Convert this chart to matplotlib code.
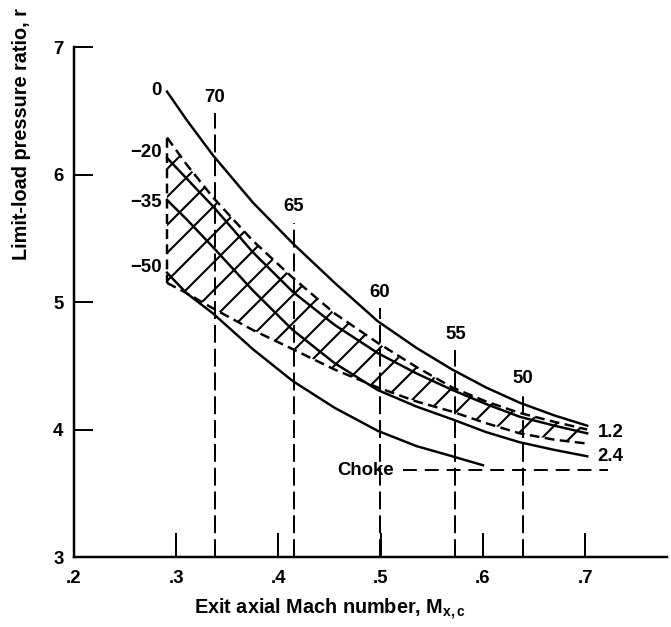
import matplotlib
matplotlib.use('Agg')
import matplotlib.pyplot as plt

plt.rcParams['font.family'] = ['Liberation Sans', 'DejaVu Sans']
plt.rcParams['font.weight'] = 'bold'
plt.rcParams['hatch.linewidth'] = 1.8
plt.rcParams['mathtext.fontset'] = 'custom'
plt.rcParams['mathtext.rm'] = 'Liberation Sans:bold'
plt.rcParams['mathtext.it'] = 'Liberation Sans:bold'
plt.rcParams['mathtext.bf'] = 'Liberation Sans:bold'

# ---------------- data ----------------
mach = [0.291, 0.310, 0.336, 0.375, 0.414, 0.455, 0.497, 0.535, 0.570, 0.603, 0.636, 0.670, 0.702]
r_top_solid = [6.65, 6.43, 6.15, 5.78, 5.46, 5.15, 4.85, 4.64, 4.47, 4.33, 4.21, 4.11, 4.03]   # "0"
r_upper_dash = [6.29, 6.08, 5.82, 5.48, 5.19, 4.91, 4.68, 4.49, 4.33, 4.22, 4.13, 4.06, 4.00]  # "-20"
r_mid_solid1 = [6.13, 5.97, 5.75, 5.39, 5.08, 4.82, 4.60, 4.44, 4.31, 4.20, 4.10, 4.03, 3.97]
r_mid_solid2 = [5.80, 5.65, 5.43, 5.09, 4.78, 4.52, 4.31, 4.18, 4.08, 3.98, 3.90, 3.84, 3.79]  # "-35"
r_lower_dash = [5.15, 5.07, 4.95, 4.78, 4.63, 4.47, 4.33, 4.22, 4.14, 4.05, 3.97, 3.92, 3.89]  # "-50"

mach_low = [0.291, 0.310, 0.336, 0.375, 0.414, 0.455, 0.497, 0.535, 0.570, 0.600]
r_low_solid = [5.23, 5.07, 4.91, 4.63, 4.38, 4.17, 3.99, 3.87, 3.79, 3.72]

angle_mach = [0.338, 0.415, 0.499, 0.573, 0.639]
angle_top = [6.48, 5.62, 4.95, 4.62, 4.27]
angle_labels = ['70', '65', '60', '55', '50']

left_labels = ['0', '\u221220', '\u221235', '\u221250']
left_label_r = [6.66, 6.17, 5.78, 5.27]

right_labels = ['1.2', '2.4']
right_label_r = [3.98, 3.79]

choke_r = 3.68
choke_mach = [0.522, 0.722]

xticks = [0.2, 0.3, 0.4, 0.5, 0.6, 0.7]
xticklabels = ['.2', '.3', '.4', '.5', '.6', '.7']
yticks = [3, 4, 5, 6, 7]
yticklabels = ['3', '4', '5', '6', '7']

# ---------------- figure ----------------
DPI = 84
fig = plt.figure(figsize=(671 / DPI, 627 / DPI), dpi=DPI)
ax = fig.add_axes([0.1103, 0.1116, 0.8837, 0.8134])
ax.set_xlim(0.2, 0.78)
ax.set_ylim(3, 7)

lw = 2.1
dash_curve = (0, (4.0, 2.2))
dash_vert = (0, (9.0, 3.0))
fs = 16

# hatched band
ax.fill_between(mach, r_lower_dash, r_upper_dash, facecolor='none',
                edgecolor='black', hatch='/', linewidth=0)
ax.plot([mach[0], mach[0]], [r_upper_dash[0], r_lower_dash[0]], color='black',
        lw=lw, linestyle=dash_curve)

ax.plot(mach, r_top_solid, color='black', lw=lw)
ax.plot(mach, r_upper_dash, color='black', lw=lw, linestyle=dash_curve)
ax.plot(mach, r_mid_solid1, color='black', lw=lw)
ax.plot(mach, r_mid_solid2, color='black', lw=lw)
ax.plot(mach, r_lower_dash, color='black', lw=lw, linestyle=dash_curve)
ax.plot(mach_low, r_low_solid, color='black', lw=lw)

# constant-angle vertical lines
for m, top, lab in zip(angle_mach, angle_top, angle_labels):
    ax.vlines(m, 3, top, colors='black', lw=1.7, linestyles=[dash_vert])
    ax.text(m, top + 0.06, lab, ha='center', va='bottom', fontsize=fs, fontweight='bold')

# choke line
ax.hlines(choke_r, choke_mach[0], choke_mach[1], colors='black', lw=1.7,
          linestyles=[(0, (7.0, 4.0))])
ax.text(choke_mach[0] - 0.009, choke_r, 'Choke', ha='right', va='center',
        fontsize=fs, fontweight='bold')

for lab, rv in zip(left_labels, left_label_r):
    ax.text(0.286, rv, lab, ha='right', va='center', fontsize=fs, fontweight='bold')
for lab, rv in zip(right_labels, right_label_r):
    ax.text(0.712, rv, lab, ha='left', va='center', fontsize=fs, fontweight='bold')

# axes styling
for s in ['top', 'right']:
    ax.spines[s].set_visible(False)
for s in ['left', 'bottom']:
    ax.spines[s].set_linewidth(2.1)

ax.set_xticks(xticks)
ax.set_xticklabels(xticklabels, fontsize=fs, fontweight='bold')
ax.set_yticks(yticks)
ax.set_yticklabels(yticklabels, fontsize=fs, fontweight='bold')
ax.tick_params(axis='x', direction='in', length=21, width=1.7, pad=11)
ax.tick_params(axis='y', direction='in', length=16, width=1.7, pad=9)

ax.set_xlabel('Exit axial Mach number, M$_{x,c}$', fontsize=17, fontweight='bold')
ax.xaxis.set_label_coords(0.432, -0.078)
ax.set_ylabel('Limit-load pressure ratio, r', fontsize=17, fontweight='bold')
ax.yaxis.set_label_coords(-0.072, 0.83)

fig.savefig('out.png', dpi=DPI)
